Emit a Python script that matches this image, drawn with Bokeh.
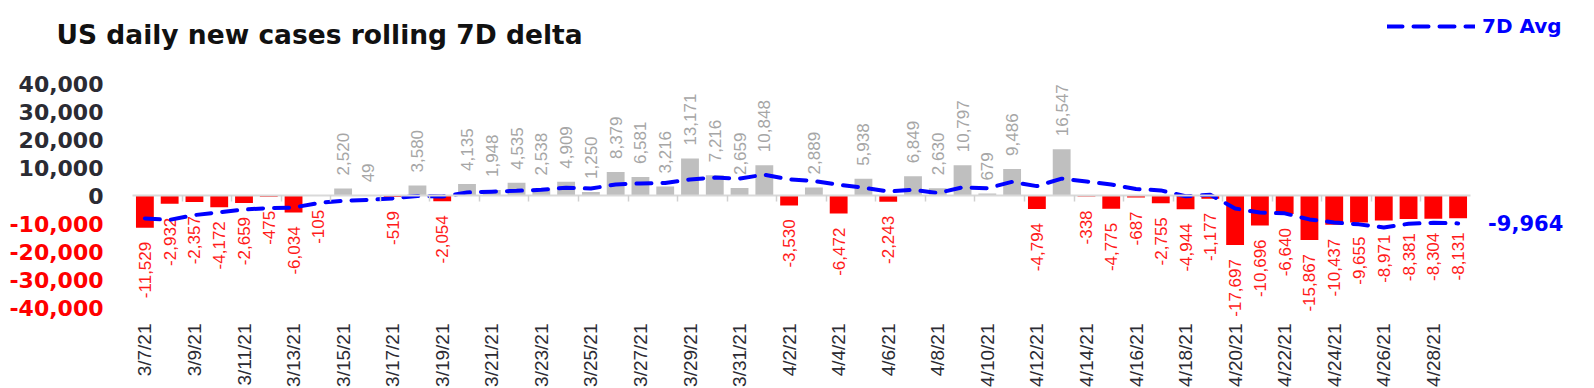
import math
from bokeh.plotting import figure
from bokeh.models import (ColumnDataSource, Range1d, FixedTicker, Label, Legend, LegendItem,
                          LinearAxis, NumeralTickFormatter)
from bokeh.core.properties import value
from bokeh.embed import file_html
from bokeh.resources import INLINE

title_text = "US daily new cases rolling 7D delta"
legend_text = "7D Avg"

dates = [
    "3/7/21", "3/8/21", "3/9/21", "3/10/21", "3/11/21", "3/12/21", "3/13/21", "3/14/21",
    "3/15/21", "3/16/21", "3/17/21", "3/18/21", "3/19/21", "3/20/21", "3/21/21", "3/22/21",
    "3/23/21", "3/24/21", "3/25/21", "3/26/21", "3/27/21", "3/28/21", "3/29/21", "3/30/21",
    "3/31/21", "4/1/21", "4/2/21", "4/3/21", "4/4/21", "4/5/21", "4/6/21", "4/7/21",
    "4/8/21", "4/9/21", "4/10/21", "4/11/21", "4/12/21", "4/13/21", "4/14/21", "4/15/21",
    "4/16/21", "4/17/21", "4/18/21", "4/19/21", "4/20/21", "4/21/21", "4/22/21", "4/23/21",
    "4/24/21", "4/25/21", "4/26/21", "4/27/21", "4/28/21", "4/29/21",
]

delta = [
    -11529, -2932, -2357, -4172, -2659, -475, -6034, -105,
    2520, 49, -519, 3580, -2054, 4135, 1948, 4535,
    2538, 4909, 1250, 8379, 6581, 3216, 13171, 7216,
    2659, 10848, -3530, 2889, -6472, 5938, -2243, 6849,
    2630, 10797, 679, 9486, -4794, 16547, -338, -4775,
    -687, -2755, -4944, -1177, -17697, -10696, -6640, -15867,
    -10437, -9655, -8971, -8381, -8304, -8131,
]

avg7 = [
    -8200, -8700, -7000, -6000, -5000, -4500, -4308, -2676,
    -1897, -1554, -1032, -141, -366, 1087, 1380, 1668,
    2023, 2799, 2466, 3956, 4306, 4487, 5721, 6389,
    6067, 7439, 5737, 5210, 3826, 2793, 1441, 2040,
    866, 2913, 2597, 4877, 3343, 6028, 5001, 3943,
    2303, 1812, -249, 267, -4625, -6104, -6371, -8539,
    -9637, -10310, -11423, -10092, -9751, -9964,
]

y_ticks = [-40000, -30000, -20000, -10000, 0, 10000, 20000, 30000, 40000]

POS_BAR = "#BFBFBF"
NEG_BAR = "#FF0000"
POS_TXT = "#A6A6A6"
NEG_TXT = "#FF1A1A"
AXIS_TXT = "#2B2B33"
BLUE = "#0000FF"

# ---- layout (pixels) ----
W, H = 1594, 388
PLOT_LEFT, PLOT_RIGHT = 132, 1470     # category area
ZERO_Y = 195                          # pixel row of value 0
PX_PER_UNIT_Y = 2.8 / 1000            # pixels per case

n = len(dates)
idx = list(range(n))
px_per_cat = (PLOT_RIGHT - PLOT_LEFT) / n
x_start = -0.5 - PLOT_LEFT / px_per_cat
x_end = x_start + W / px_per_cat
y_top = ZERO_Y / PX_PER_UNIT_Y
y_bottom = y_top - H / PX_PER_UNIT_Y

src = ColumnDataSource(dict(
    x=idx,
    top=delta,
    color=[POS_BAR if v >= 0 else NEG_BAR for v in delta],
    label=[f"{v:,}" for v in delta],
    tcolor=[POS_TXT if v >= 0 else NEG_TXT for v in delta],
    align=["left" if v >= 0 else "right" for v in delta],
    yoff=[-13 if v >= 0 else 14 for v in delta],
))

p = figure(
    width=W, height=H,
    x_range=Range1d(x_start, x_end), y_range=Range1d(y_bottom, y_top),
    x_axis_type=None, y_axis_type=None,
    output_backend="svg", toolbar_location=None, title=None,
    min_border=0, min_border_left=0, min_border_right=0, min_border_top=0, min_border_bottom=0,
    outline_line_color=None, background_fill_color="white", border_fill_color="white",
)
p.xgrid.visible = False
p.ygrid.visible = False

p.vbar(x="x", top="top", bottom=0, width=0.72, fill_color="color", line_color=None, source=src)

p.text(x="x", y="top", text="label", angle=math.pi / 2, text_align="align",
       text_baseline="middle", y_offset="yoff", text_color="tcolor",
       text_font=value("Liberation Sans"), text_font_size="17px", source=src)

line = p.line(idx, avg7, line_color=BLUE, line_width=4, line_dash="15 11", line_cap="round")

# zero axis line with small ticks at every second category boundary
zero_axis = LinearAxis(fixed_location=0, bounds=(-0.5, n - 0.5),
                       ticker=FixedTicker(ticks=[i - 0.5 for i in idx if i % 2 == 0 and i > 0]))
zero_axis.axis_line_color = "#D9D9D9"
zero_axis.axis_line_width = 2
zero_axis.major_tick_line_color = "#D0D0D0"
zero_axis.major_tick_line_width = 1.5
zero_axis.major_tick_out = 6
zero_axis.major_tick_in = 0
zero_axis.minor_tick_line_color = None
zero_axis.major_label_text_font_size = "0px"
zero_axis.major_label_text_alpha = 0
p.add_layout(zero_axis, "below")

# date axis at the bottom of the value range
ticks = [i for i in idx if i % 2 == 0]
xa = LinearAxis(fixed_location=y_ticks[0], ticker=FixedTicker(ticks=ticks))
xa.major_label_overrides = {i: dates[i] for i in ticks}
xa.major_label_orientation = math.pi / 2
xa.major_label_standoff = 16
xa.major_tick_line_color = None
xa.minor_tick_line_color = None
xa.major_tick_out = 0
xa.major_tick_in = 0
xa.axis_line_color = None
xa.major_label_text_font = "Liberation Sans"
xa.major_label_text_font_size = "19px"
xa.major_label_text_color = AXIS_TXT
p.add_layout(xa, "below")

# value axes (positive labels dark, negative labels red)
for sub, col in (([t for t in y_ticks if t >= 0], AXIS_TXT), ([t for t in y_ticks if t < 0], "#FF0000")):
    ya = LinearAxis(fixed_location=-0.5, ticker=FixedTicker(ticks=sub),
                    formatter=NumeralTickFormatter(format="0,0"))
    ya.major_label_standoff = 29
    ya.major_tick_line_color = None
    ya.minor_tick_line_color = None
    ya.major_tick_out = 0
    ya.major_tick_in = 0
    ya.axis_line_color = None
    ya.major_label_text_font = "DejaVu Sans"
    ya.major_label_text_font_style = "bold"
    ya.major_label_text_font_size = "22px"
    ya.major_label_text_color = col
    p.add_layout(ya, "left")

# title
p.add_layout(Label(x=56, y=H - 34, x_units="screen", y_units="screen", text=title_text,
                   text_align="left", text_baseline="alphabetic", text_color="#111111",
                   text_font="DejaVu Sans", text_font_style="bold", text_font_size="26.5px"))

# end value label
p.add_layout(Label(x=idx[-1], y=avg7[-1], x_offset=30, text=f"{avg7[-1]:,}",
                   text_align="left", text_baseline="middle", text_color=BLUE,
                   text_font="DejaVu Sans", text_font_style="bold", text_font_size="21px"))

legend = Legend(items=[LegendItem(label=legend_text, renderers=[line])],
                location=(1387, H - 38), orientation="horizontal",
                padding=0, margin=0, spacing=0, glyph_width=88, glyph_height=20,
                label_height=20, label_standoff=7,
                label_text_font="DejaVu Sans", label_text_font_style="bold",
                label_text_font_size="20px", label_text_color=BLUE,
                border_line_color=None, background_fill_alpha=0)
p.add_layout(legend)

open("out.html", "w").write(file_html(p, INLINE))
